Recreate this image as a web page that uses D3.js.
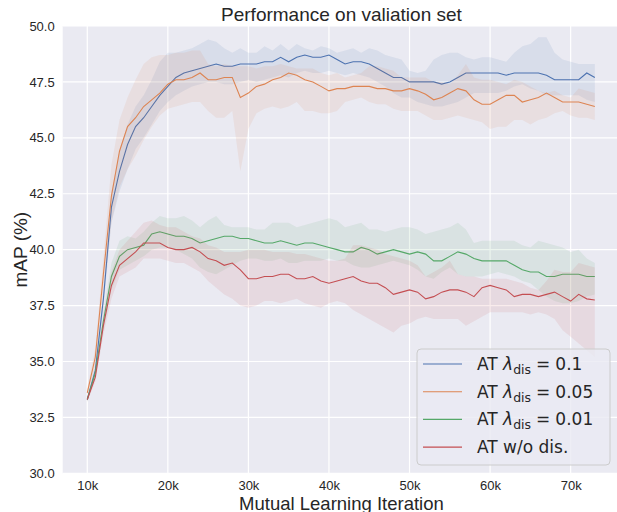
<!DOCTYPE html>
<html>
<head>
<meta charset="utf-8">
<script src="https://cdn.jsdelivr.net/npm/d3@7"></script>
<style>
  body { margin: 0; background: #fff; }
  svg { display: block; }
</style>
</head>
<body>
<svg id="chart"></svg>
<script>
// iterations in thousands
const iterK = [10,11,12,13,14,15,16,17,18,19,20,21,22,23,24,25,26,27,28,29,30,31,32,33,34,35,36,37,38,39,40,41,42,43,44,45,46,47,48,49,50,51,52,53,54,55,56,57,58,59,60,61,62,63,64,65,66,67,68,69,70,71,72,73];

const blueMean = [33.3,34.6,37.8,41.9,43.5,44.7,45.5,45.9,46.4,46.9,47.3,47.7,47.9,48.0,48.1,48.2,48.3,48.2,48.2,48.3,48.3,48.3,48.4,48.4,48.6,48.4,48.6,48.7,48.6,48.6,48.7,48.5,48.3,48.4,48.4,48.3,48.1,47.9,47.7,47.7,47.5,47.5,47.5,47.5,47.4,47.5,47.7,47.9,47.9,47.9,47.9,47.9,47.8,47.9,47.9,47.9,47.9,47.8,47.6,47.6,47.6,47.6,47.9,47.7];
const blueHi = [33.4,34.8,38.1,42.6,44.4,45.6,46.4,46.9,47.6,48.4,48.8,48.8,48.9,49.0,49.2,49.4,49.3,49.0,48.8,49.0,48.8,48.8,49.1,48.9,49.2,48.9,49.2,49.0,48.9,49.1,49.0,48.8,48.9,49.0,48.8,49.0,48.9,48.7,48.6,48.5,48.0,47.9,48.0,48.5,48.7,48.8,48.8,48.6,48.5,48.6,48.6,48.5,48.4,48.8,49.1,49.2,49.5,49.5,48.8,48.5,48.4,48.3,48.3,48.3];
const blueLo = [33.2,34.4,37.4,41.2,42.6,43.6,44.5,45.0,45.6,46.2,46.6,46.9,47.1,47.3,47.4,47.5,47.5,47.4,47.4,47.5,47.6,47.5,47.6,47.7,47.8,47.7,47.9,48.0,47.9,47.9,48.0,47.9,47.8,47.9,47.8,47.7,47.5,47.3,47.0,46.8,46.8,46.6,46.5,46.4,46.4,46.5,46.6,46.8,47.0,47.0,47.0,47.0,47.1,47.3,47.4,47.2,47.1,46.9,46.9,46.9,46.9,46.9,46.7,46.6];

const orangeMean = [33.6,35.2,38.9,42.4,44.4,45.5,45.9,46.4,46.7,47.0,47.4,47.6,47.6,47.7,47.9,47.6,47.6,47.7,47.7,46.8,47.0,47.3,47.4,47.6,47.7,47.9,47.8,47.6,47.5,47.3,47.1,47.2,47.2,47.3,47.3,47.3,47.2,47.2,47.1,47.1,47.2,47.1,46.95,46.7,46.8,47.0,47.2,47.1,46.7,46.5,46.5,46.7,46.9,46.9,46.6,46.7,46.8,47.0,46.8,46.6,46.6,46.6,46.5,46.4];
const orangeHi = [33.8,35.6,39.6,43.8,45.8,46.8,47.6,48.3,48.6,48.7,48.7,48.8,48.8,48.9,48.9,48.3,48.2,48.3,48.2,48.2,48.2,48.1,48.2,48.2,48.3,48.2,48.1,48.1,48.1,47.9,47.8,47.9,47.7,47.8,47.9,48.2,48.2,48.1,48.0,47.7,47.7,47.7,47.7,47.5,47.5,47.4,47.8,48.3,47.7,47.6,47.6,47.5,47.4,47.6,47.5,47.3,47.1,47.0,47.1,46.9,46.8,47.2,47.1,47.0];
const orangeLo = [33.4,34.8,38.2,41.2,42.8,43.6,44.2,44.9,45.5,46.0,46.3,46.4,46.5,46.6,46.6,46.2,45.9,45.9,46.2,43.5,45.4,46.1,46.3,46.4,46.3,46.4,46.6,46.2,46.2,46.1,46.1,46.2,46.6,46.7,46.8,46.6,46.5,46.5,46.3,46.2,46.2,46.2,46.0,45.8,45.8,45.9,46.0,45.9,45.8,45.7,45.4,45.5,45.5,45.8,45.8,45.6,45.8,45.9,46.1,46.2,46.0,45.9,45.9,45.8];

const greenMean = [33.3,34.5,36.8,38.8,39.7,40.0,40.1,40.2,40.7,40.8,40.7,40.6,40.6,40.5,40.3,40.4,40.5,40.6,40.6,40.5,40.5,40.4,40.3,40.3,40.4,40.3,40.2,40.3,40.3,40.2,40.1,40.0,39.9,39.9,40.1,40.0,39.8,39.9,40.0,39.9,39.8,39.9,39.8,39.5,39.5,39.7,39.9,39.8,39.6,39.5,39.5,39.5,39.5,39.3,39.1,39.0,39.0,38.8,38.8,38.9,38.9,38.9,38.8,38.8];
const greenHi = [33.4,34.7,37.2,39.4,40.4,40.6,40.5,40.8,41.2,41.5,41.4,41.4,41.5,41.3,41.0,41.3,41.5,41.1,41.0,41.0,41.0,40.9,40.9,41.2,41.2,41.2,41.0,41.1,41.2,41.3,41.4,41.3,41.0,41.1,41.2,40.9,40.9,40.8,40.9,41.0,41.0,40.9,40.7,40.8,40.9,41.0,41.2,40.9,40.3,40.4,40.4,40.4,40.4,40.4,40.2,40.1,40.4,40.3,40.2,40.1,39.9,40.0,39.6,39.4];
const greenLo = [33.2,34.3,36.4,38.2,39.1,39.3,39.5,39.7,40.0,40.1,40.1,40.0,39.8,39.6,39.2,39.0,38.9,39.1,39.3,39.5,39.6,39.6,39.5,39.5,39.6,39.4,39.4,39.5,39.5,39.5,39.6,39.5,39.5,39.3,39.2,39.2,39.3,39.4,39.5,39.4,39.3,39.1,38.8,38.7,39.0,39.2,38.9,38.8,38.8,38.8,38.9,39.0,38.9,38.8,38.6,38.5,38.2,37.9,37.7,37.6,37.6,37.7,37.9,38.0];

const redMean = [33.3,34.3,36.6,38.4,39.3,39.6,39.9,40.3,40.3,40.3,40.1,40.0,40.0,40.1,39.9,39.6,39.5,39.3,39.4,39.1,38.7,38.7,38.8,38.8,38.9,38.9,38.7,38.7,38.8,38.6,38.5,38.6,38.7,38.8,38.6,38.5,38.5,38.3,38.0,38.1,38.2,38.1,37.8,37.9,38.1,38.2,38.2,38.1,37.9,38.3,38.4,38.3,38.2,37.9,38.0,38.0,37.9,38.0,38.1,37.9,37.7,38.0,37.8,37.75];
const redHi = [33.4,34.5,37.0,39.0,40.0,40.4,40.8,41.2,41.3,41.1,41.0,41.0,40.8,40.6,40.5,40.2,40.1,39.9,39.9,39.9,40.0,40.0,40.0,39.9,39.9,39.9,39.8,39.8,39.7,39.6,39.5,39.5,39.6,40.2,40.2,40.1,40.0,39.8,39.7,39.6,39.5,39.3,38.8,39.0,39.2,39.5,38.9,38.8,38.8,38.7,38.7,38.7,38.7,38.6,38.5,38.3,38.2,38.6,39.1,39.0,39.0,39.4,39.3,39.2];
const redLo = [33.2,34.1,36.2,37.8,38.8,39.0,39.2,39.6,39.6,39.6,39.5,39.4,39.4,39.2,39.0,38.6,38.3,38.0,37.8,37.5,37.4,37.5,37.7,37.7,37.6,37.7,37.8,37.6,37.5,37.4,37.6,37.7,37.6,37.3,37.1,36.9,36.7,36.5,36.3,36.6,36.7,36.9,37.0,36.9,36.9,36.9,36.9,36.6,36.8,37.0,37.2,37.2,37.2,37.2,37.2,37.1,37.2,37.1,36.9,36.4,36.1,35.8,35.5,35.2];

const seriesNames = ["0.1", "0.05", "0.01", "w/o"];
const seriesColors = ["#4c72b0", "#dd8452", "#55a868", "#c44e52"];

const xTickValues = [10, 20, 30, 40, 50, 60, 70];
const xTickLabels = ["10k", "20k", "30k", "40k", "50k", "60k", "70k"];
const yTickValues = [30, 32.5, 35, 37.5, 40, 42.5, 45, 47.5, 50];

const series = [
  { mean: blueMean, lo: blueLo, hi: blueHi },
  { mean: orangeMean, lo: orangeLo, hi: orangeHi },
  { mean: greenMean, lo: greenLo, hi: greenHi },
  { mean: redMean, lo: redLo, hi: redHi }
];

const width = 617, height = 512;
const plot = { left: 62.7, top: 26, right: 620.2, bottom: 473.3 };

const svg = d3.select("#chart")
  .attr("width", width)
  .attr("height", height);

const x = d3.scaleLinear().domain([6.95, 76.15]).range([plot.left, plot.right]);
const y = d3.scaleLinear().domain([30, 50]).range([plot.bottom, plot.top]);

svg.append("rect")
  .attr("x", plot.left)
  .attr("y", plot.top)
  .attr("width", plot.right - plot.left)
  .attr("height", plot.bottom - plot.top)
  .attr("fill", "#eaeaf2");

// grid
svg.append("g")
  .selectAll("line")
  .data(xTickValues)
  .enter()
  .append("line")
  .attr("x1", d => x(d)).attr("x2", d => x(d))
  .attr("y1", plot.top).attr("y2", plot.bottom)
  .attr("stroke", "#fff").attr("stroke-width", 1.2);

svg.append("g")
  .selectAll("line")
  .data(yTickValues)
  .enter()
  .append("line")
  .attr("x1", plot.left).attr("x2", plot.right)
  .attr("y1", d => y(d)).attr("y2", d => y(d))
  .attr("stroke", "#fff").attr("stroke-width", 1.2);

// axes (labels only, seaborn darkgrid style)
let xAxis = svg.append("g")
  .attr("transform", `translate(0,${plot.bottom})`)
  .call(d3.axisBottom(x).tickValues(xTickValues).tickSize(0).tickPadding(7)
    .tickFormat((d, i) => xTickLabels[i]));
xAxis.select(".domain").remove();
xAxis.selectAll("text")
  .attr("font-family", "Liberation Sans, Arial, sans-serif")
  .attr("font-size", 13)
  .attr("fill", "#262626");

let yAxis = svg.append("g")
  .attr("transform", `translate(${plot.left},0)`)
  .call(d3.axisLeft(y).tickValues(yTickValues).tickSize(0).tickPadding(8)
    .tickFormat(d3.format(".1f")));
yAxis.select(".domain").remove();
yAxis.selectAll("text")
  .attr("font-family", "Liberation Sans, Arial, sans-serif")
  .attr("font-size", 13)
  .attr("fill", "#262626");

// bands and lines
svg.append("clipPath").attr("id", "clip")
  .append("rect")
  .attr("x", plot.left).attr("y", plot.top)
  .attr("width", plot.right - plot.left).attr("height", plot.bottom - plot.top);

const area = d3.area()
  .x((d, i) => x(iterK[i]))
  .y0(d => y(d[0]))
  .y1(d => y(d[1]));

const line = d3.line()
  .x((d, i) => x(iterK[i]))
  .y(d => y(d));

let marks = svg.append("g").attr("clip-path", "url(#clip)");

series.forEach((s, si) => {
  marks.append("path")
    .datum(s.lo.map((v, i) => [v, s.hi[i]]))
    .attr("d", area)
    .attr("fill", seriesColors[si])
    .attr("fill-opacity", 0.11)
    .attr("stroke", "none");
  marks.append("path")
    .datum(s.mean)
    .attr("d", line)
    .attr("fill", "none")
    .attr("stroke", seriesColors[si])
    .attr("stroke-width", 1.1);
});

// titles
svg.append("text")
  .attr("x", (plot.left + plot.right) / 2)
  .attr("y", 21)
  .attr("text-anchor", "middle")
  .attr("font-family", "Liberation Sans, Arial, sans-serif")
  .attr("font-size", 19)
  .attr("fill", "#262626")
  .text("Performance on valiation set");

svg.append("text")
  .attr("x", (plot.left + plot.right) / 2)
  .attr("y", 509.5)
  .attr("text-anchor", "middle")
  .attr("font-family", "Liberation Sans, Arial, sans-serif")
  .attr("font-size", 18.5)
  .attr("fill", "#262626")
  .text("Mutual Learning Iteration");

svg.append("text")
  .attr("transform", `translate(27,${(plot.top + plot.bottom) / 2}) rotate(-90)`)
  .attr("text-anchor", "middle")
  .attr("font-family", "Liberation Sans, Arial, sans-serif")
  .attr("font-size", 19)
  .attr("fill", "#262626")
  .text("mAP (%)");

// legend
let legend = svg.append("g").attr("transform", "translate(417,349)");
legend.append("rect")
  .attr("width", 193).attr("height", 116)
  .attr("rx", 4)
  .attr("fill", "#eaeaf2").attr("fill-opacity", 0.8)
  .attr("stroke", "#cccccc").attr("stroke-width", 1);

seriesNames.forEach((name, i) => {
  let row = legend.append("g").attr("transform", `translate(0,${15 + i * 27.7})`);
  row.append("line")
    .attr("x1", 6).attr("x2", 45)
    .attr("stroke", seriesColors[i]).attr("stroke-width", 1.1);
  let t = row.append("text")
    .attr("x", 60).attr("y", 6)
    .attr("font-family", "DejaVu Sans, sans-serif")
    .attr("font-size", 17)
    .attr("fill", "#262626");
  if (name === "w/o") {
    t.text("AT w/o dis.");
  } else {
    t.append("tspan").text("AT ");
    t.append("tspan").attr("font-style", "italic").text("λ");
    t.append("tspan").attr("font-size", 12.5).attr("dy", 4).text("dis");
    t.append("tspan").attr("dy", -4).attr("dx", 5).text("=");
    t.append("tspan").attr("dx", 5).text(name);
  }
});
</script>
</body>
</html>
